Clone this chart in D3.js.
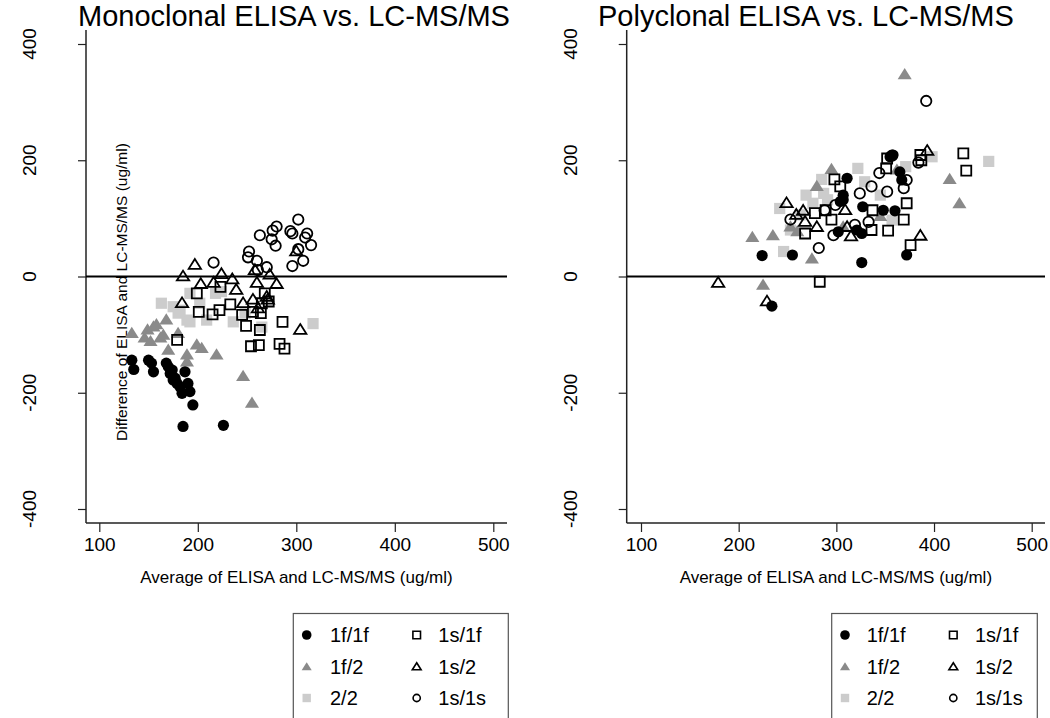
<!DOCTYPE html>
<html><head><meta charset="utf-8">
<script src="https://cdn.jsdelivr.net/npm/d3@7"></script>
<style>body{margin:0;background:#fff}svg{display:block}text{font-family:"Liberation Sans",Arial,sans-serif}</style>
</head><body>
<svg id="c" width="1050" height="718"></svg>
<script>
const seriesNames = ["1f/1f","1f/2","2/2","1s/1f","1s/2","1s/1s"];
const xTicks = [100,200,300,400,500];
const yTicks = [-400,-200,0,200,400];
const panelTitles = ["Monoclonal ELISA vs. LC-MS/MS","Polyclonal ELISA vs. LC-MS/MS"];

// Monoclonal panel: [average, difference]
const mono_1f1f = [[133,-144],[135,-160],[150,-144],[153,-149],[155,-164],[168,-149],[170,-155],[172,-167],[174,-161],[175,-178],[177,-175],[179,-184],[182,-190],[184,-201],[187,-164],[190,-184],[192,-198],[195,-221],[185,-258],[226,-256]];
const mono_1f2 = [[133,-98],[146,-106],[149,-92],[152,-112],[155,-87],[158,-83],[162,-106],[165,-101],[168,-75],[170,-127],[180,-98],[189,-135],[189,-147],[199,-118],[204,-124],[219,-135],[246,-172],[255,-218]];
const mono_22 = [[163,-46],[175,-52],[180,-63],[182,-58],[189,-75],[192,-29],[192,-78],[202,-46],[209,-75],[218,-29],[224,-26],[236,-78],[248,-63],[265,-87],[317,-81]];
const mono_1s1f = [[179,-109],[199,-29],[201,-61],[215,-65],[222,-58],[223,-18],[233,-48],[245,-66],[249,-85],[256,-61],[264,-63],[263,-92],[254,-120],[262,-118],[283,-116],[288,-124],[286,-78],[268,-29],[265,-46],[272,-43]];
const mono_1s2 = [[185,0],[197,20],[203,-13],[216,-11],[224,4],[235,-5],[239,-23],[246,-46],[256,-40],[261,-55],[260,-11],[258,11],[270,-35],[273,3],[280,-13],[271,-40],[300,43],[304,-92],[184,-46]];
const mono_1s1s = [[263,71],[276,79],[280,86],[275,64],[279,53],[252,43],[251,33],[260,27],[270,16],[216,24],[294,78],[302,98],[296,74],[311,74],[309,67],[315,54],[302,47],[307,27],[296,18],[261,11]];

// Polyclonal panel: [average, difference]
const poly_1f1f = [[234,-51],[224,36],[255,37],[326,24],[372,37],[311,169],[307,132],[307,140],[304,129],[327,120],[348,114],[360,113],[321,80],[326,74],[355,206],[358,209],[365,180],[367,166],[302,77]];
const poly_1f2 = [[225,-15],[214,67],[235,70],[275,30],[253,85],[295,184],[416,167],[426,125],[362,183],[370,347],[345,103],[280,155],[260,77],[307,85]];
const poly_22 = [[242,117],[246,43],[285,167],[287,143],[276,126],[322,186],[329,163],[345,140],[371,189],[398,206],[456,198],[357,97],[263,106],[253,80],[269,140],[291,132]];
const poly_1s1f = [[283,-9],[268,74],[278,109],[298,167],[289,114],[295,98],[337,114],[353,79],[336,80],[351,186],[430,212],[433,182],[372,126],[369,98],[376,54],[386,209],[387,200],[352,203],[304,155]];
const poly_1s2 = [[179,-11],[229,-43],[249,126],[259,106],[266,113],[268,94],[280,85],[315,69],[311,85],[386,70],[393,216],[309,114]];
const poly_1s1s = [[392,302],[253,98],[282,49],[299,123],[297,71],[319,89],[333,94],[336,155],[344,178],[352,146],[324,143],[384,196],[372,166],[369,152],[288,114],[357,208]];

const monoData = {"1f/1f":mono_1f1f,"1f/2":mono_1f2,"2/2":mono_22,"1s/1f":mono_1s1f,"1s/2":mono_1s2,"1s/1s":mono_1s1s};
const polyData = {"1f/1f":poly_1f1f,"1f/2":poly_1f2,"2/2":poly_22,"1s/1f":poly_1s1f,"1s/2":poly_1s2,"1s/1s":poly_1s1s};

const drawOrder = ["2/2","1f/2","1f/1f","1s/1f","1s/2","1s/1s"];

const svg = d3.select("#c");

function symbolPath(name, s){
  if(name==="1f/1f"||name==="1s/1s"){
    return d3.arc()({innerRadius:0,outerRadius:s,startAngle:0,endAngle:2*Math.PI});
  }
  if(name==="1f/2"||name==="1s/2"){
    const h=s*1.75, w=s*1.1;
    return `M0,${-h*0.6}L${w},${h*0.4}L${-w},${h*0.4}Z`;
  }
  return `M${-s},${-s}H${s}V${s}H${-s}Z`;
}
const styles = {
  "1f/1f":{fill:"#000",stroke:"none",sw:0,size:5.6},
  "1f/2":{fill:"#8a8a8a",stroke:"none",sw:0,size:6.4},
  "2/2":{fill:"#cccccc",stroke:"none",sw:0,size:5.6},
  "1s/1f":{fill:"none",stroke:"#000",sw:1.8,size:5},
  "1s/2":{fill:"none",stroke:"#000",sw:1.8,size:5.6},
  "1s/1s":{fill:"none",stroke:"#000",sw:1.8,size:5.2}
};

function panel(opts){
  const {data, x0, x1, xr, title, titleX, showYTitle} = opts;
  const g = svg.append("g");
  const x = d3.scaleLinear().domain([100,500]).range(xr);
  const y = d3.scaleLinear().domain([-400,400]).range([509,44]);
  const yTop = 30, yBot = 523;

  g.append("text").attr("x",titleX).attr("y",26).attr("text-anchor","start")
    .attr("font-size",29).attr("fill","#000").text(title);

  const xa = g.append("g").attr("transform",`translate(0,${yBot})`)
    .call(d3.axisBottom(x).tickValues(xTicks).tickSize(9).tickPadding(6).tickFormat(d3.format("d")));
  xa.select(".domain").remove();
  xa.selectAll(".tick line").attr("stroke","#222").attr("stroke-width",1.2);
  xa.selectAll(".tick text").attr("font-size",19).attr("fill","#000").style("font-family","Liberation Sans, Arial, sans-serif");
  g.append("line").attr("x1",x0).attr("x2",x1).attr("y1",yBot).attr("y2",yBot).attr("stroke","#222").attr("stroke-width",1.5);

  const ya = g.append("g").attr("transform",`translate(${x0},0)`)
    .call(d3.axisLeft(y).tickValues(yTicks).tickSize(8).tickFormat(""));
  ya.select(".domain").remove();
  ya.selectAll(".tick line").attr("stroke","#222").attr("stroke-width",1.2);
  g.append("line").attr("x1",x0).attr("x2",x0).attr("y1",yTop).attr("y2",yBot).attr("stroke","#222").attr("stroke-width",1.5);
  yTicks.forEach(t=>{
    g.append("text").attr("transform",`translate(${x0-50},${y(t)}) rotate(-90)`)
      .attr("text-anchor","middle").attr("font-size",19).attr("fill","#000").text(t);
  });

  g.append("text").attr("x",(x0+x1)/2).attr("y",583).attr("text-anchor","middle")
    .attr("font-size",17).attr("fill","#000").text("Average of ELISA and LC-MS/MS (ug/ml)");
  if(showYTitle){
    g.append("text").attr("transform",`translate(${x0+41},292) rotate(-90)`).attr("text-anchor","middle")
      .attr("font-size",15.5).attr("fill","#000").text("Difference of ELISA and LC-MS/MS (ug/ml)");
  }

  g.append("line").attr("x1",x0).attr("x2",x1).attr("y1",y(0)).attr("y2",y(0)).attr("stroke","#000").attr("stroke-width",2);

  drawOrder.forEach(name=>{
    const st = styles[name];
    g.append("g").selectAll("path").data(data[name]).join("path")
      .attr("d",symbolPath(name, st.size))
      .attr("transform",d=>`translate(${x(d[0])},${y(d[1])})`)
      .attr("fill",st.fill).attr("stroke",st.stroke).attr("stroke-width",st.sw);
  });
}

panel({data:monoData, x0:86, x1:507, xr:[99.3,493.3], title:panelTitles[0], titleX:78, showYTitle:true});
panel({data:polyData, x0:626.7, x1:1045, xr:[641,1031.7], title:panelTitles[1], titleX:598, showYTitle:false});

function legend(bx, bw, sx1, tx1, sx2, tx2){
  const g = svg.append("g");
  g.append("rect").attr("x",bx).attr("y",613.5).attr("width",bw).attr("height",130)
    .attr("fill","#fff").attr("stroke","#555").attr("stroke-width",1.2);
  const rows = [635,667,698];
  const legStyles = {
    "1f/1f":{fill:"#000",stroke:"none",sw:0,size:4.8},
    "1f/2":{fill:"#8a8a8a",stroke:"none",sw:0,size:4.6},
    "2/2":{fill:"#cccccc",stroke:"none",sw:0,size:4.2},
    "1s/1f":{fill:"none",stroke:"#000",sw:1.6,size:3.8},
    "1s/2":{fill:"none",stroke:"#000",sw:1.6,size:4},
    "1s/1s":{fill:"none",stroke:"#000",sw:1.6,size:3.6}
  };
  seriesNames.forEach((name,i)=>{
    const col = i<3?0:1, row = i%3;
    const sx = col?sx2:sx1, tx = col?tx2:tx1;
    const st = legStyles[name];
    g.append("path").attr("d",symbolPath(name,st.size)).attr("transform",`translate(${sx},${rows[row]})`)
      .attr("fill",st.fill).attr("stroke",st.stroke).attr("stroke-width",st.sw);
    g.append("text").attr("x",tx).attr("y",rows[row]+7).attr("font-size",20).attr("fill","#000").text(name);
  });
}
legend(293.3, 215, 306.7, 330, 416.7, 438.3);
legend(831.7, 205.6, 845, 866.7, 953.3, 975);
</script>
</body></html>
